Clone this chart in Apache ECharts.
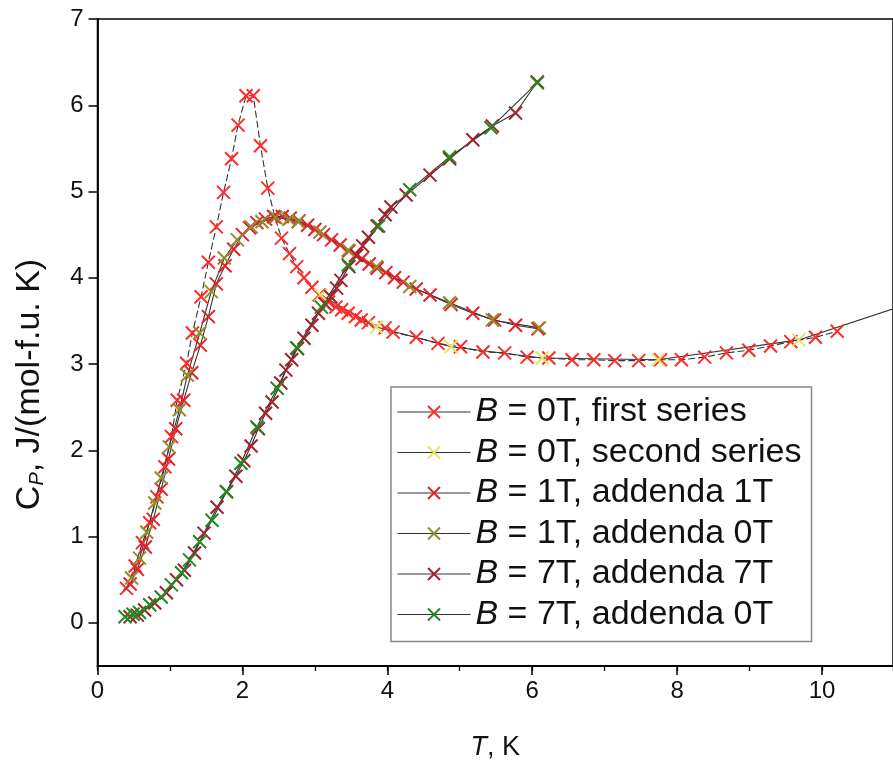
<!DOCTYPE html>
<html><head><meta charset="utf-8">
<script src="https://cdn.jsdelivr.net/npm/echarts@6/dist/echarts.min.js"></script>
<style>html,body{margin:0;padding:0;background:#fff}#c{width:893px;height:776px}</style>
</head><body><div id="c"></div>
<script>
// ---- data (T in K, Cp in J/(mol-f.u. K)) ----
const xTickValues = [0, 2, 4, 6, 8, 10];
const yTickValues = [0, 1, 2, 3, 4, 5, 6, 7];
const seriesNames = [
  'B = 0T, first series',
  'B = 0T, second series',
  'B = 1T, addenda 1T',
  'B = 1T, addenda 0T',
  'B = 7T, addenda 7T',
  'B = 7T, addenda 0T'
];
const b0First = [
  [0.40,0.40],[0.52,0.66],[0.62,0.93],[0.72,1.16],[0.82,1.46],[0.93,1.81],[1.02,2.16],[1.10,2.58],
  [1.23,3.01],[1.31,3.36],[1.43,3.78],[1.53,4.18],[1.64,4.59],[1.74,4.99],[1.85,5.38],[1.94,5.77],
  [2.05,6.11],[2.15,6.11],[2.25,5.53],[2.35,5.04],[2.45,4.70],[2.54,4.46],[2.65,4.28],[2.75,4.13],
  [2.85,4.00],[2.96,3.89],[3.06,3.80],[3.19,3.72],[3.29,3.66],[3.37,3.63],[3.46,3.59],[3.56,3.55],
  [3.64,3.51],[3.74,3.48],[3.97,3.42],[4.08,3.37],[4.40,3.31],[4.70,3.24],[5.01,3.20],[5.32,3.14],
  [5.62,3.13],[5.93,3.08],[6.23,3.07],[6.55,3.05],[6.85,3.05],[7.14,3.04],[7.47,3.04],[7.77,3.05],
  [8.06,3.05],[8.38,3.08],[8.68,3.13],[8.99,3.16],[9.29,3.21],[9.57,3.26],[9.91,3.31],[10.21,3.38]
];
const b0Second = [
  [3.08,3.80],[3.85,3.43],[4.88,3.20],[6.14,3.07],[7.74,3.05],[9.68,3.28],[11.70,3.84]
];
const b1Add1 = [
  [0.45,0.45],[0.55,0.62],[0.66,0.88],[0.77,1.20],[0.88,1.55],[0.98,1.90],[1.08,2.25],[1.19,2.58],
  [1.30,2.90],[1.42,3.22],[1.53,3.55],[1.64,3.93],[1.76,4.14],[1.88,4.33],[2.00,4.50],[2.10,4.58],
  [2.20,4.64],[2.32,4.68],[2.43,4.71],[2.55,4.71],[2.66,4.69],[2.78,4.66],[2.90,4.61],[3.00,4.56],
  [3.12,4.50],[3.23,4.44],[3.35,4.38],[3.47,4.31],[3.56,4.26],[3.65,4.22],[3.75,4.16],[3.86,4.11],
  [3.98,4.06],[4.10,4.00],[4.22,3.95],[4.40,3.87],[4.59,3.80],[4.88,3.69],[5.18,3.59],[5.48,3.51],
  [5.77,3.45],[6.08,3.41]
];
const b1Add0 = [
  [0.47,0.52],[0.58,0.75],[0.68,1.05],[0.79,1.39],[0.88,1.68],[0.99,2.04],[1.13,2.47],[1.24,2.87],
  [1.41,3.36],[1.57,3.84],[1.75,4.23],[1.93,4.44],[2.12,4.59],[2.27,4.65],[2.46,4.70],[2.64,4.68],
  [2.77,4.65],[3.07,4.53],[3.46,4.32],[3.85,4.13],[4.31,3.90],[4.86,3.71],[5.45,3.51],[6.10,3.42]
];
const b7Add7 = [
  [0.45,0.07],[0.55,0.09],[0.65,0.15],[0.79,0.23],[0.95,0.35],[1.09,0.50],[1.20,0.61],[1.34,0.81],
  [1.47,1.04],[1.65,1.34],[1.78,1.52],[1.91,1.70],[2.02,1.88],[2.12,2.05],[2.22,2.25],[2.32,2.43],
  [2.41,2.56],[2.53,2.78],[2.60,2.93],[2.68,3.05],[2.76,3.18],[2.85,3.30],[2.96,3.45],[3.05,3.59],
  [3.14,3.70],[3.22,3.78],[3.30,3.88],[3.36,3.97],[3.47,4.13],[3.58,4.26],[3.66,4.37],[3.74,4.47],
  [3.86,4.60],[3.97,4.73],[4.05,4.82],[4.26,4.96],[4.59,5.19],[4.86,5.38],[5.18,5.60],[5.45,5.76],
  [5.77,5.91],[6.07,6.27]
];
const b7Add0 = [
  [0.38,0.07],[0.49,0.10],[0.58,0.12],[0.72,0.21],[0.88,0.30],[1.02,0.44],[1.16,0.58],[1.27,0.73],
  [1.41,0.94],[1.58,1.19],[1.78,1.52],[1.98,1.85],[2.20,2.27],[2.48,2.72],[2.75,3.19],[3.09,3.66],
  [3.46,4.15],[3.88,4.60],[4.31,5.02],[4.86,5.40],[5.43,5.74],[6.07,6.26]
];
const seriesData = [b0First, b0Second, b1Add1, b1Add0, b7Add7, b7Add0];
const seriesColors = ['#ff2b2b', '#e4e46a', '#e3222c', '#8f8f2c', '#a2222c', '#1f8a1f'];
const lineTypes = [[7, 3], 'solid', 'solid', 'solid', 'solid', 'solid'];

const FONT = '"Liberation Sans", Arial, sans-serif';
const crossSymbol = 'path://M0,0L10,10M10,0L0,10';

const chart = echarts.init(document.getElementById('c'), null, {renderer: 'canvas'});
const series = seriesData.map((d, i) => ({
  name: seriesNames[i],
  type: 'line',
  data: d,
  xAxisIndex: 0,
  yAxisIndex: 0,
  symbol: crossSymbol,
  symbolSize: 13,
  showSymbol: true,
  clip: true,
  animation: false,
  itemStyle: {color: seriesColors[i], borderColor: seriesColors[i], borderWidth: 2},
  lineStyle: {color: '#333', width: 1.1, type: lineTypes[i]},
  emphasis: {disabled: true}
}));

chart.setOption({
  animation: false,
  grid: {left: 97.5, right: -6, top: 19, bottom: 110, show: true, borderColor: '#000', borderWidth: 1.5, backgroundColor: 'transparent'},
  legend: {
    orient: 'vertical',
    left: 391, top: 387,
    padding: [8, 10, 10, 6],
    itemGap: 6.5,
    itemWidth: 73,
    itemHeight: 15,
    itemTextGap: 12,
    borderColor: '#888',
    borderWidth: 1.5,
    backgroundColor: '#fff',
    lineStyle: {type: 'solid', color: '#333', width: 1},
    data: seriesNames,
    formatter: n => n.replace(/^B/, '{i|B}'),
    textStyle: {
      fontFamily: FONT, fontSize: 34, lineHeight: 32, color: '#111',
      rich: {i: {fontFamily: FONT, fontSize: 34, fontStyle: 'italic', color: '#111', lineHeight: 32}}
    }
  },
  xAxis: [{
    type: 'value', position: 'bottom', min: 0, max: 10.98,
    axisLine: {show: true, onZero: false, lineStyle: {color: '#000', width: 1.8}},
    axisTick: {show: true, length: 9, customValues: xTickValues, lineStyle: {color: '#000', width: 1.5}},
    axisLabel: {customValues: xTickValues, fontFamily: FONT, fontSize: 24, color: '#111', margin: 13},
    splitLine: {show: false},
    name: '{i|T}, K',
    nameLocation: 'middle',
    nameGap: 68,
    nameTextStyle: {fontFamily: FONT, fontSize: 27, color: '#111',
      rich: {i: {fontFamily: FONT, fontSize: 27, fontStyle: 'italic', color: '#111'}}}
  }, {
    type: 'value', position: 'top', offset: -647, min: 0, max: 10.98, interval: 1,
    axisLine: {show: false},
    axisTick: {show: true, inside: true, length: 5, lineStyle: {color: '#000', width: 1.3}},
    axisLabel: {show: false},
    splitLine: {show: false}
  }],
  yAxis: [{
    type: 'value', position: 'left', min: -0.5, max: 7,
    axisLine: {show: true, onZero: false, lineStyle: {color: '#000', width: 1.8}},
    axisTick: {show: true, length: 9, customValues: yTickValues, lineStyle: {color: '#000', width: 1.5}},
    axisLabel: {customValues: yTickValues, fontFamily: FONT, fontSize: 24, color: '#111', margin: 14},
    splitLine: {show: false},
    name: '{c|C}{s|P}{n|, J/(mol-f.u. K)}',
    nameLocation: 'middle',
    nameGap: 50,
    nameTextStyle: {fontFamily: FONT, fontSize: 34, color: '#111', padding: [0, 84, 0, 0],
      rich: {
        c: {fontFamily: FONT, fontSize: 34, color: '#111'},
        s: {fontFamily: FONT, fontSize: 20, fontStyle: 'italic', color: '#111', padding: [16, 0, 0, 0]},
        n: {fontFamily: FONT, fontSize: 34, color: '#111'}
      }}
  }, {
    type: 'value', position: 'right', offset: -801.5, min: -0.5, max: 7, interval: 0.5,
    axisLine: {show: false},
    axisTick: {show: true, inside: true, length: 5, lineStyle: {color: '#000', width: 1.3}},
    axisLabel: {show: false},
    splitLine: {show: false}
  }],
  series: series
});
</script></body></html>
